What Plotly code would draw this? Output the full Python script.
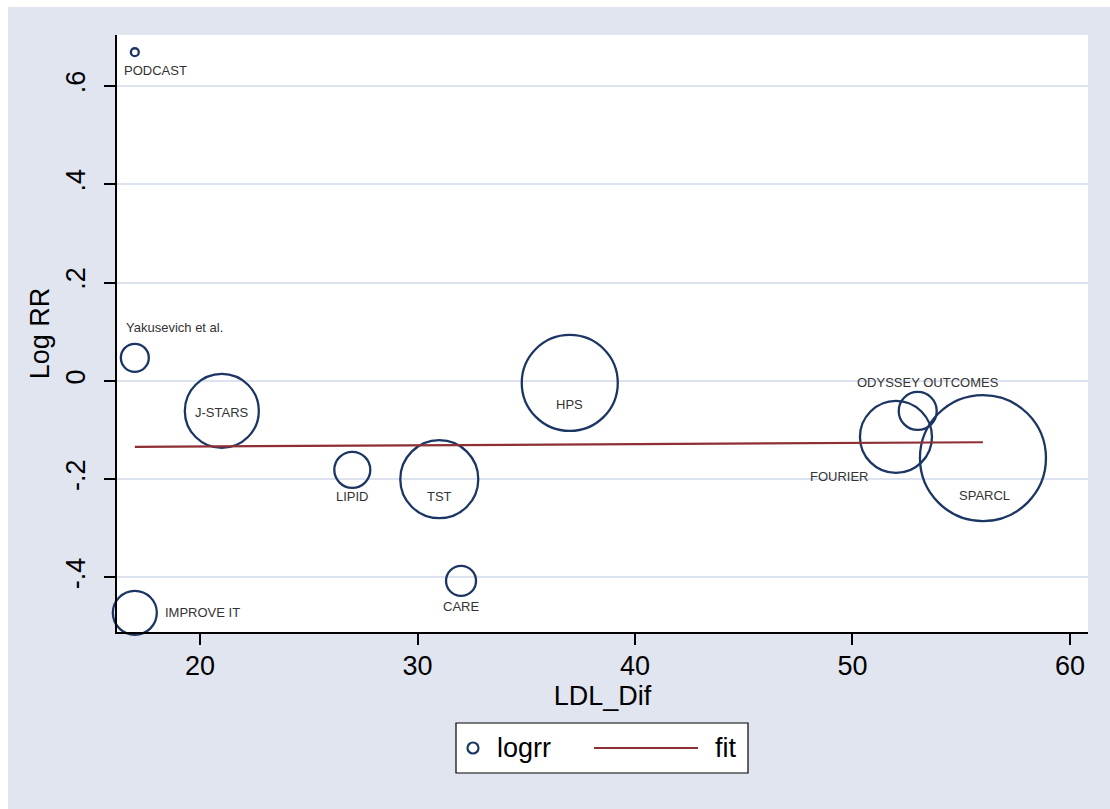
import numpy as np
import plotly.graph_objects as go

# Meta-regression data: LDL difference vs log relative risk, bubble = study weight (%)
studies = ["PODCAST", "Yakusevich et al.", "J-STARS", "IMPROVE IT", "LIPID", "TST",
           "HPS", "CARE", "FOURIER", "ODYSSEY OUTCOMES", "SPARCL"]
ldl_dif = [17, 17, 21, 17, 27, 31, 37, 32, 52, 53, 56]
logrr = [0.669, 0.047, -0.061, -0.472, -0.181, -0.200, -0.004, -0.407, -0.114, -0.061, -0.157]
weight = [0.13, 1.62, 11.35, 4.01, 2.69, 12.61, 19.10, 1.86, 10.74, 2.99, 32.90]

x_ticks = [20, 30, 40, 50, 60]
y_ticks = [-0.4, -0.2, 0, 0.2, 0.4, 0.6]
y_ticklabels = ["-.4", "-.2", "0", ".2", ".4", ".6"]

# label placement: (xanchor, xshift px, yshift px)
label_place = {
    "PODCAST": ("left", -13, -18),
    "Yakusevich et al.": ("left", -11, 30),
    "J-STARS": ("center", 0, -2),
    "IMPROVE IT": ("left", 28, 0),
    "LIPID": ("center", 0, -27),
    "TST": ("center", 0, -17),
    "HPS": ("center", 0, -22),
    "CARE": ("center", 0, -26),
    "FOURIER": ("right", -25, -40),
    "ODYSSEY OUTCOMES": ("center", 10, 28),
    "SPARCL": ("center", 2, -37),
}

NAVY = "#1c3664"
MAROON = "#8e2f35"
BG = "#e1e5f0"
FONT = "Liberation Sans, Arial, sans-serif"

# weighted linear fit (analytic weights)
x_arr = np.array(ldl_dif, dtype=float)
y_arr = np.array(logrr)
w_arr = np.array(weight)
slope, intercept = np.polyfit(x_arr, y_arr, 1, w=np.sqrt(w_arr))
fit_x = np.array([x_arr.min(), x_arr.max()])
fit_y = intercept + slope * fit_x

fig = go.Figure()
fig.add_trace(go.Scatter(
    x=ldl_dif, y=logrr, mode="markers", name="logrr",
    marker=dict(size=weight, sizemode="area", sizeref=max(weight) / (2 * 63 ** 2),
                symbol="circle-open", color=NAVY, opacity=1,
                line=dict(color=NAVY, width=2.3)),
    cliponaxis=False, showlegend=False,
))
fig.add_trace(go.Scatter(
    x=fit_x, y=fit_y, mode="lines", name="fit",
    line=dict(color=MAROON, width=2.2), showlegend=False,
))

for s, xv, yv in zip(studies, ldl_dif, logrr):
    xa, xs, ys = label_place[s]
    fig.add_annotation(x=xv, y=yv, text=s, showarrow=False, xanchor=xa, yanchor="middle",
                       xshift=xs, yshift=ys, font=dict(family=FONT, size=13, color="#333333"))

# plot geometry in pixels (for paper conversions)
W, H = 1110, 809
L, R, T, B = 117, 22, 35, 177
pw, ph = W - L - R, H - T - B


def px(p):
    return (p - L) / pw


def py(p):
    return (H - B - p) / ph


shapes = [
    # grey graph region with thin white margin on left/top
    dict(type="rect", xref="paper", yref="paper", x0=px(8), x1=px(W + 2), y0=py(H + 2), y1=py(7),
         fillcolor=BG, line=dict(width=0), layer="below"),
    # white plot region
    dict(type="rect", xref="paper", yref="paper", x0=0, x1=1, y0=0, y1=1,
         fillcolor="white", line=dict(width=0), layer="below"),
    # legend box
    dict(type="rect", xref="paper", yref="paper", x0=px(456), x1=px(748), y0=py(773), y1=py(723),
         fillcolor="white", line=dict(color="black", width=1.2), layer="above"),
    # legend marker
    dict(type="circle", xref="paper", yref="paper", xsizemode="pixel", ysizemode="pixel",
         xanchor=px(473), yanchor=py(748), x0=-5.5, x1=5.5, y0=-5.5, y1=5.5,
         line=dict(color=NAVY, width=2.2), layer="above"),
    # legend line
    dict(type="line", xref="paper", yref="paper", x0=px(594), x1=px(698), y0=py(748), y1=py(748),
         line=dict(color=MAROON, width=2.2), layer="above"),
]
fig.update_layout(shapes=shapes)
fig.add_annotation(xref="paper", yref="paper", x=px(495), y=py(748), text="logrr", showarrow=False,
                   xanchor="left", yanchor="middle", font=dict(family=FONT, size=27, color="black"))
fig.add_annotation(xref="paper", yref="paper", x=px(713), y=py(748), text="fit", showarrow=False,
                   xanchor="left", yanchor="middle", font=dict(family=FONT, size=27, color="black"))

fig.update_layout(
    width=W, height=H,
    margin=dict(l=L, r=R, t=T, b=B, pad=0),
    paper_bgcolor="white", plot_bgcolor="white",
    font=dict(family=FONT, color="black"),
    showlegend=False,
)
fig.update_xaxes(
    range=[16.18, 60.83], tickvals=x_ticks, ticks="outside", ticklen=11, tickwidth=1.5,
    tickcolor="black", showline=True, linecolor="black", linewidth=1.5, showgrid=False,
    zeroline=False, tickfont=dict(size=27, color="black"), ticklabelstandoff=-2,
    title=dict(text="LDL_Dif", font=dict(size=27, color="black"), standoff=0),
)
fig.update_yaxes(
    range=[-0.511, 0.704], tickvals=y_ticks, ticktext=y_ticklabels, tickangle=-90,
    ticks="outside", ticklen=11, tickwidth=1.5, tickcolor="black", showline=True,
    linecolor="black", linewidth=1.5, showgrid=True, gridcolor="#dde3ee", gridwidth=1.5,
    zeroline=False, tickfont=dict(size=27, color="black"), ticklabelstandoff=8,
    title=dict(text="Log RR", font=dict(size=27, color="black"), standoff=4),
)

fig.write_html("out.html")
